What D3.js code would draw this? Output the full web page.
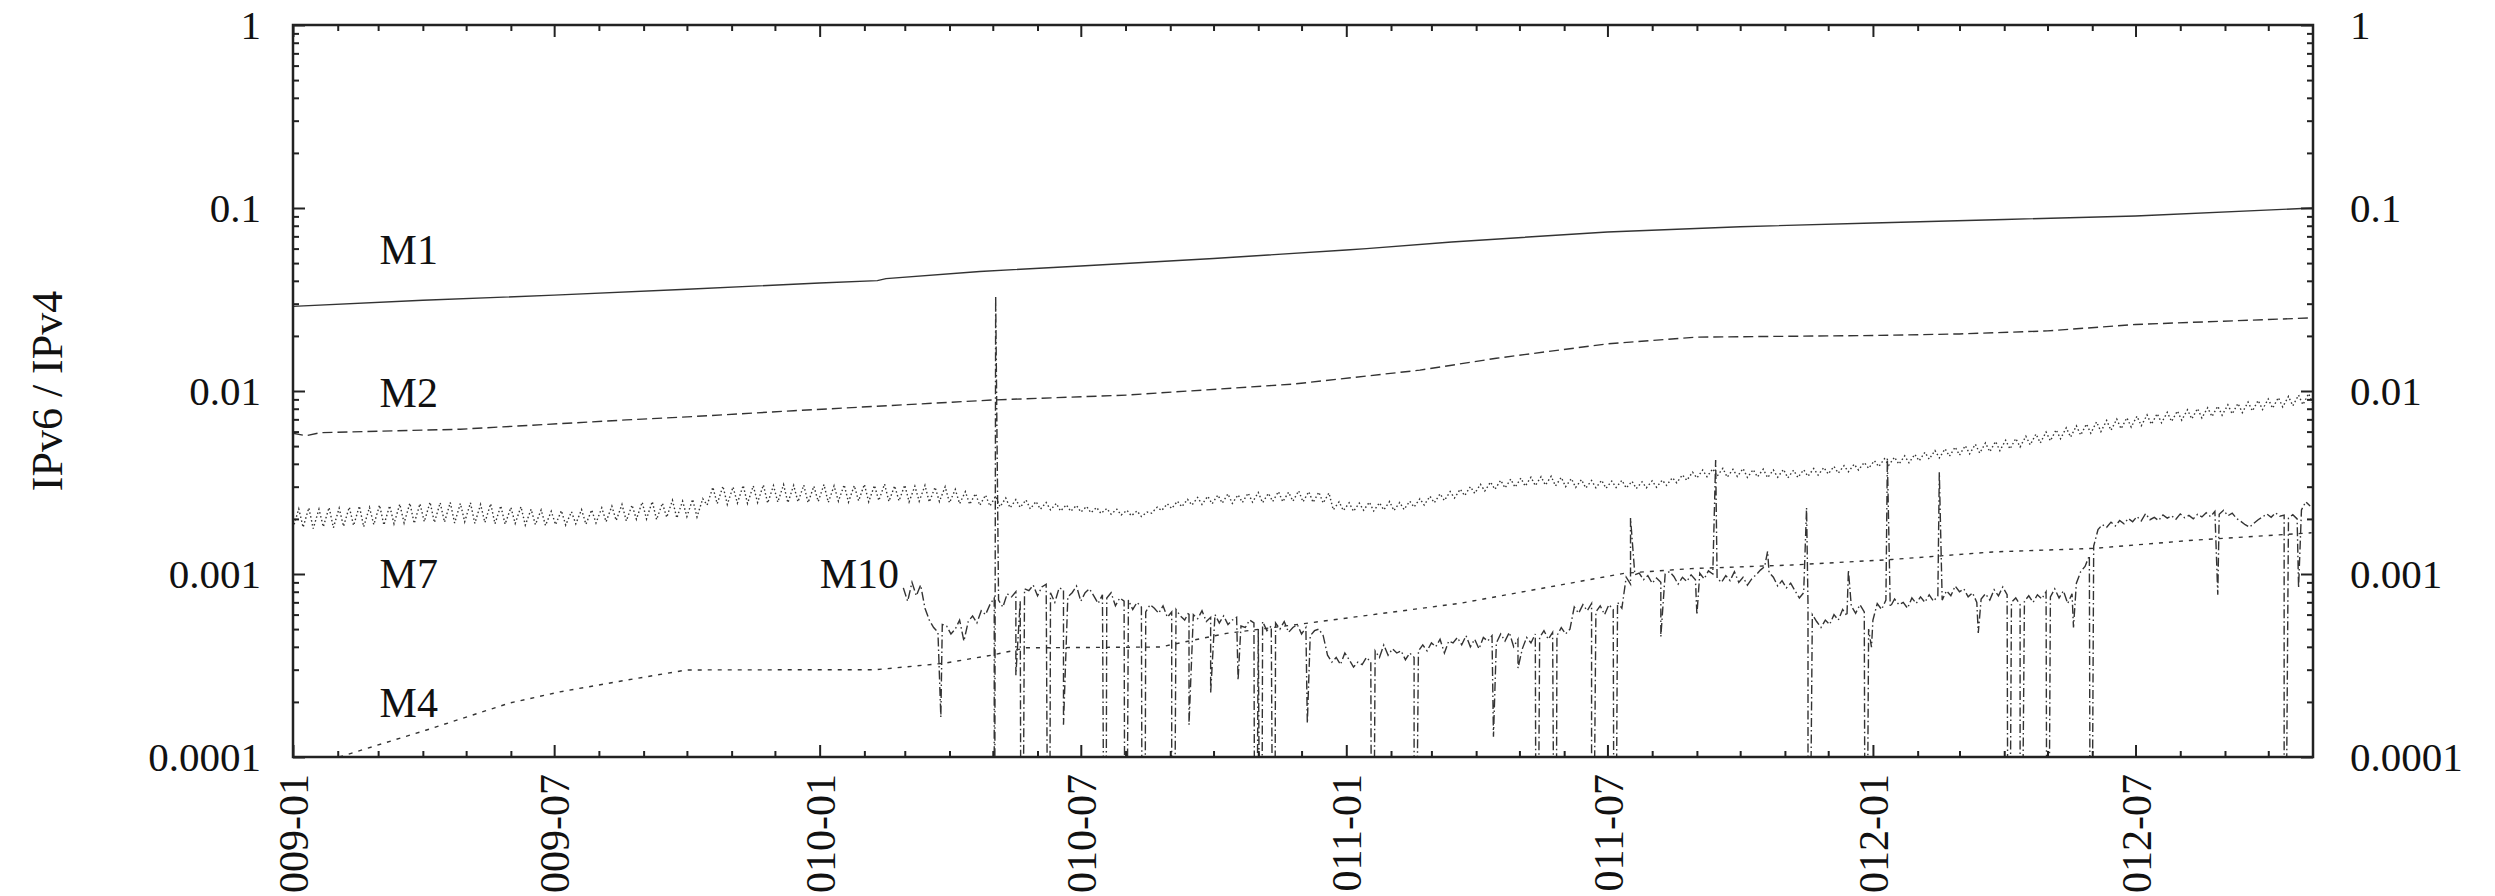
<!DOCTYPE html>
<html>
<head>
<meta charset="utf-8">
<script src="https://cdn.jsdelivr.net/npm/d3@7"></script>
<style>
  body { margin: 0; background: #fff; }
  svg { display: block; }
</style>
</head>
<body>
<div id="chart"></div>
<script>
// ---- data ----
const m1Dates = ["2009-01-01","2009-04-01","2009-07-01","2009-10-01","2010-01-01","2010-02-10","2010-02-16","2010-04-22","2010-07-01","2010-10-01","2011-01-01","2011-01-15","2011-03-15","2011-07-01","2011-10-01","2012-01-01","2012-04-01","2012-07-01","2012-11-01"];
const m1Values = [0.0290,0.0313,0.0334,0.0360,0.0389,0.0401,0.0411,0.0450,0.0482,0.0530,0.0589,0.0600,0.0652,0.0740,0.0790,0.0828,0.0866,0.0904,0.1000];

const m2Dates = ["2009-01-01","2009-01-10","2009-01-20","2009-04-27","2009-08-20","2009-10-05","2009-12-14","2010-05-01","2010-08-02","2010-11-25","2011-02-21","2011-04-15","2011-07-01","2011-09-01","2012-01-01","2012-03-01","2012-05-01","2012-07-01","2012-11-01"];
const m2Values = [0.00588,0.00570,0.00592,0.00618,0.00695,0.00725,0.00780,0.00893,0.00950,0.0109,0.0130,0.0151,0.0181,0.0197,0.0201,0.0205,0.0213,0.0231,0.0251];

const m4Dates = ["2009-02-02","2009-04-03","2009-05-31","2009-07-05","2009-08-20","2009-10-01","2010-02-09","2010-03-28","2010-05-01","2010-05-24","2010-08-25","2010-10-10","2010-11-25","2011-03-21","2011-07-13","2011-08-28","2011-11-06","2012-01-14","2012-03-24","2012-06-02","2012-08-10","2012-10-31"];
const m4Values = [1.00e-4,1.40e-4,1.97e-4,2.27e-4,2.63e-4,2.99e-4,3.00e-4,3.25e-4,3.61e-4,3.95e-4,3.99e-4,4.74e-4,5.26e-4,6.92e-4,1.01e-3,1.07e-3,1.12e-3,1.20e-3,1.32e-3,1.38e-3,1.53e-3,1.68e-3];

// M7: weekly troughs and weekly peaks from 2009-01-01
const m7Start = "2009-01-01";
const m7Low = [
  1.78e-3,1.80e-3,1.77e-3,1.81e-3,1.79e-3, 1.82e-3,1.84e-3,1.81e-3,1.86e-3,1.85e-3,
  1.88e-3,1.90e-3,1.89e-3,1.93e-3,1.91e-3, 1.92e-3,1.90e-3,1.93e-3,1.89e-3,1.91e-3,
  1.88e-3,1.87e-3,1.89e-3,1.85e-3,1.86e-3, 1.84e-3,1.86e-3,1.85e-3,1.88e-3,1.87e-3,
  1.90e-3,1.93e-3,1.96e-3,1.95e-3,1.99e-3, 2.00e-3,1.98e-3,2.04e-3,2.02e-3,2.06e-3,
  2.05e-3,2.38e-3,2.42e-3,2.40e-3,2.44e-3, 2.43e-3,2.46e-3,2.44e-3,2.47e-3,2.45e-3,
  2.48e-3,2.45e-3,2.49e-3,2.46e-3,2.50e-3, 2.47e-3,2.51e-3,2.48e-3,2.52e-3,2.49e-3,
  2.51e-3,2.48e-3,2.50e-3,2.47e-3,2.49e-3, 2.45e-3,2.42e-3,2.40e-3,2.37e-3,2.35e-3,
  2.33e-3,2.30e-3,2.31e-3,2.27e-3,2.26e-3, 2.24e-3,2.21e-3,2.20e-3,2.18e-3,2.16e-3,
  2.14e-3,2.12e-3,2.10e-3,2.08e-3,2.06e-3, 2.15e-3,2.22e-3,2.28e-3,2.33e-3,2.38e-3,
  2.40e-3,2.42e-3,2.44e-3,2.43e-3,2.46e-3, 2.47e-3,2.45e-3,2.49e-3,2.48e-3,2.50e-3,
  2.48e-3,2.46e-3,2.44e-3,2.24e-3,2.22e-3, 2.20e-3,2.23e-3,2.21e-3,2.24e-3,2.22e-3,
  2.25e-3,2.32e-3,2.38e-3,2.45e-3,2.52e-3, 2.60e-3,2.68e-3,2.76e-3,2.84e-3,2.90e-3,
  2.95e-3,2.98e-3,3.02e-3,3.04e-3,3.06e-3, 3.03e-3,3.00e-3,2.97e-3,2.95e-3,2.96e-3,
  2.94e-3,2.97e-3,2.95e-3,2.93e-3,2.96e-3, 2.98e-3,3.05e-3,3.15e-3,3.25e-3,3.35e-3,
  3.40e-3,3.42e-3,3.38e-3,3.41e-3,3.37e-3, 3.39e-3,3.36e-3,3.38e-3,3.35e-3,3.37e-3,
  3.42e-3,3.47e-3,3.52e-3,3.56e-3,3.62e-3, 3.70e-3,3.78e-3,3.86e-3,3.93e-3,3.98e-3,
  4.05e-3,4.15e-3,4.24e-3,4.31e-3,4.40e-3, 4.46e-3,4.53e-3,4.58e-3,4.66e-3,4.72e-3,
  4.82e-3,4.95e-3,5.08e-3,5.20e-3,5.34e-3, 5.48e-3,5.60e-3,5.74e-3,5.88e-3,6.00e-3,
  6.10e-3,6.22e-3,6.35e-3,6.46e-3,6.58e-3, 6.70e-3,6.82e-3,6.93e-3,7.04e-3,7.12e-3,
  7.25e-3,7.38e-3,7.50e-3,7.62e-3,7.78e-3, 7.92e-3,8.05e-3,8.18e-3,8.30e-3,8.42e-3,
  8.50e-3
];
const m7High = [
  2.27e-3,2.30e-3,2.26e-3,2.31e-3,2.29e-3, 2.32e-3,2.35e-3,2.31e-3,2.38e-3,2.36e-3,
  2.41e-3,2.44e-3,2.42e-3,2.47e-3,2.45e-3, 2.46e-3,2.43e-3,2.45e-3,2.40e-3,2.42e-3,
  2.36e-3,2.31e-3,2.33e-3,2.26e-3,2.24e-3, 2.20e-3,2.22e-3,2.19e-3,2.25e-3,2.24e-3,
  2.30e-3,2.35e-3,2.40e-3,2.38e-3,2.47e-3, 2.49e-3,2.44e-3,2.53e-3,2.50e-3,2.56e-3,
  2.58e-3,2.98e-3,3.02e-3,2.99e-3,3.05e-3, 3.03e-3,3.07e-3,3.04e-3,3.08e-3,3.05e-3,
  3.06e-3,3.02e-3,3.08e-3,3.03e-3,3.07e-3, 3.04e-3,3.09e-3,3.05e-3,3.10e-3,3.03e-3,
  3.06e-3,3.02e-3,3.05e-3,2.98e-3,3.00e-3, 2.90e-3,2.82e-3,2.75e-3,2.70e-3,2.66e-3,
  2.60e-3,2.55e-3,2.54e-3,2.49e-3,2.46e-3, 2.43e-3,2.39e-3,2.37e-3,2.34e-3,2.31e-3,
  2.28e-3,2.26e-3,2.23e-3,2.21e-3,2.18e-3, 2.32e-3,2.42e-3,2.50e-3,2.56e-3,2.62e-3,
  2.66e-3,2.70e-3,2.74e-3,2.71e-3,2.77e-3, 2.79e-3,2.76e-3,2.82e-3,2.80e-3,2.85e-3,
  2.82e-3,2.80e-3,2.77e-3,2.48e-3,2.45e-3, 2.44e-3,2.47e-3,2.45e-3,2.49e-3,2.46e-3,
  2.50e-3,2.58e-3,2.66e-3,2.74e-3,2.82e-3, 2.91e-3,3.00e-3,3.09e-3,3.18e-3,3.25e-3,
  3.30e-3,3.34e-3,3.38e-3,3.40e-3,3.42e-3, 3.37e-3,3.32e-3,3.28e-3,3.24e-3,3.25e-3,
  3.22e-3,3.25e-3,3.21e-3,3.19e-3,3.23e-3, 3.26e-3,3.36e-3,3.48e-3,3.60e-3,3.70e-3,
  3.76e-3,3.78e-3,3.73e-3,3.77e-3,3.72e-3, 3.74e-3,3.70e-3,3.73e-3,3.69e-3,3.71e-3,
  3.77e-3,3.82e-3,3.87e-3,3.91e-3,3.98e-3, 4.07e-3,4.16e-3,4.26e-3,4.35e-3,4.42e-3,
  4.51e-3,4.62e-3,4.73e-3,4.83e-3,4.94e-3, 5.03e-3,5.12e-3,5.20e-3,5.30e-3,5.38e-3,
  5.50e-3,5.66e-3,5.82e-3,5.97e-3,6.14e-3, 6.30e-3,6.45e-3,6.60e-3,6.78e-3,6.90e-3,
  7.02e-3,7.14e-3,7.28e-3,7.40e-3,7.52e-3, 7.65e-3,7.78e-3,7.90e-3,8.02e-3,8.10e-3,
  8.26e-3,8.40e-3,8.55e-3,8.70e-3,8.88e-3, 9.05e-3,9.20e-3,9.35e-3,9.50e-3,9.68e-3
];

// M10: one reading every 3 days from 2010-02-28, plus single-day outliers
const m10Start = "2010-02-28";
const m10Base = [
  8.4e-4,7.1e-4,9.0e-4,7.6e-4,8.7e-4,6.5e-4,
  5.6e-4,5.1e-4,4.8e-4,5.3e-4,5.2e-4,4.7e-4,5.0e-4,5.6e-4,4.3e-4,5.5e-4,5.9e-4,5.4e-4,
  6.3e-4,6.0e-4,6.8e-4,7.4e-4,
  7.2e-4,6.6e-4,7.8e-4,7.5e-4,8.0e-4,7.1e-4,8.3e-4,8.1e-4,8.7e-4,7.6e-4,
  8.5e-4,8.8e-4,7.9e-4,7.0e-4,8.4e-4,8.2e-4,7.5e-4,7.9e-4,8.6e-4,7.1e-4,
  7.9e-4,8.3e-4,7.6e-4,6.9e-4,7.7e-4,7.4e-4,7.9e-4,6.7e-4,7.4e-4,7.1e-4,7.2e-4,
  6.4e-4,7.0e-4,6.6e-4,6.2e-4,6.8e-4,6.5e-4,6.1e-4,6.7e-4,5.8e-4,6.2e-4,
  6.4e-4,5.9e-4,5.6e-4,6.2e-4,6.0e-4,5.7e-4,6.3e-4,5.5e-4,5.8e-4,6.0e-4,
  5.4e-4,5.9e-4,5.3e-4,5.6e-4,5.8e-4,5.2e-4,5.1e-4,5.6e-4,5.4e-4,5.0e-4,
  5.5e-4,4.9e-4,5.2e-4,5.4e-4,5.0e-4,5.5e-4,4.8e-4,5.1e-4,5.3e-4,4.7e-4,
  5.1e-4,4.6e-4,4.9e-4,5.0e-4,4.6e-4,
  3.6e-4,3.3e-4,3.5e-4,3.2e-4,3.7e-4,3.4e-4,3.1e-4,3.3e-4,3.2e-4,3.5e-4,3.3e-4,
  3.8e-4,3.5e-4,4.1e-4,3.6e-4,3.9e-4,3.7e-4,3.8e-4,3.4e-4,3.7e-4,3.5e-4,3.8e-4,
  4.1e-4,3.8e-4,4.2e-4,4.0e-4,4.4e-4,3.7e-4,4.3e-4,4.2e-4,4.5e-4,4.1e-4,4.6e-4,4.0e-4,4.4e-4,3.9e-4,4.5e-4,4.3e-4,4.6e-4,
  4.2e-4,4.7e-4,4.3e-4,4.8e-4,4.0e-4,4.4e-4,3.9e-4,4.5e-4,4.2e-4,4.7e-4,4.5e-4,4.9e-4,4.4e-4,4.8e-4,4.6e-4,5.1e-4,4.7e-4,5.0e-4,
  6.6e-4,6.1e-4,6.8e-4,6.3e-4,6.9e-4,6.2e-4,6.7e-4,6.0e-4,6.8e-4,6.4e-4,7.0e-4,6.5e-4,
  9.6e-4,8.8e-4,9.9e-4,10.1e-4,9.3e-4,9.8e-4,8.9e-4,9.5e-4,9.0e-4,10.0e-4,
  10.3e-4,9.7e-4,8.8e-4,9.6e-4,9.1e-4,9.9e-4,9.3e-4,10.1e-4,9.4e-4,10.4e-4,
  10.0e-4,9.5e-4,9.0e-4,9.8e-4,9.2e-4,10.3e-4,9.0e-4,9.6e-4,8.7e-4,9.4e-4,
  9.9e-4,10.5e-4,11.0e-4,10.2e-4,9.6e-4,8.6e-4,9.2e-4,8.4e-4,8.9e-4,
  8.1e-4,7.4e-4,7.9e-4,
  6.8e-4,6.0e-4,5.5e-4,5.1e-4,5.6e-4,5.3e-4,
  6.0e-4,5.6e-4,6.4e-4,5.9e-4,6.7e-4,6.1e-4,6.8e-4,6.2e-4,5.0e-4,5.6e-4,
  6.9e-4,6.4e-4,7.2e-4,6.6e-4,7.3e-4,6.8e-4,7.0e-4,6.5e-4,7.4e-4,6.9e-4,
  7.5e-4,7.0e-4,7.7e-4,7.1e-4,7.6e-4,7.2e-4,8.1e-4,7.6e-4,8.6e-4,8.0e-4,
  8.3e-4,7.5e-4,7.9e-4,7.0e-4,7.3e-4,7.8e-4,7.2e-4,8.2e-4,7.6e-4,8.5e-4,7.7e-4,7.0e-4,7.4e-4,
  6.8e-4,7.1e-4,7.6e-4,7.0e-4,7.7e-4,7.3e-4,8.0e-4,7.5e-4,8.3e-4,7.4e-4,8.1e-4,6.9e-4,7.8e-4,
  8.9e-4,10.3e-4,11.0e-4,12.6e-4,14.2e-4,
  17.5e-4,18.6e-4,18.0e-4,19.2e-4,18.3e-4,19.6e-4,18.8e-4,20.1e-4,19.3e-4,20.6e-4,
  19.5e-4,21.4e-4,19.8e-4,20.4e-4,19.6e-4,21.0e-4,20.2e-4,20.8e-4,19.9e-4,21.3e-4,
  20.3e-4,20.9e-4,20.0e-4,21.2e-4,20.5e-4,21.6e-4,20.6e-4,22.0e-4,21.2e-4,22.3e-4,
  20.8e-4,21.5e-4,20.1e-4,19.4e-4,18.6e-4,18.0e-4,18.9e-4,19.8e-4,20.5e-4,21.3e-4,
  20.4e-4,21.6e-4,20.7e-4,21.0e-4,20.2e-4,21.1e-4,20.0e-4,22.4e-4,24.8e-4,23.5e-4
];
const m10ZeroDates = ["2010-05-02","2010-05-21","2010-06-09","2010-07-18","2010-08-01","2010-08-13","2010-08-14","2010-09-02","2010-09-03","2010-10-30","2010-11-03","2010-11-12","2011-01-19","2011-02-17","2011-05-13","2011-05-26","2011-06-20","2011-07-06","2011-11-17","2011-12-27","2012-04-04","2012-04-12","2012-05-01","2012-05-31","2012-10-12"];
const m10DipDates = ["2010-03-26","2010-05-17","2010-06-19","2010-09-14","2010-09-29","2010-10-18","2010-12-05","2011-04-13","2011-04-30","2011-08-07","2011-09-01","2011-12-31","2012-03-14","2012-05-19","2012-08-27","2012-10-22"];
const m10DipValues = [1.65e-4,2.8e-4,1.5e-4,1.5e-4,2.24e-4,2.63e-4,1.53e-4,1.29e-4,3.06e-4,4.54e-4,5.97e-4,3.98e-4,4.76e-4,5.11e-4,7.7e-4,8.4e-4];
const m10SpikeDates = ["2010-05-03","2011-07-17","2011-09-14","2011-10-20","2011-11-16","2011-12-15","2012-01-11","2012-02-16"];
const m10SpikeValues = [3.3e-2,2.02e-3,4.2e-3,1.33e-3,2.3e-3,1.05e-3,4.3e-3,3.6e-3];

const yTickValues = [1e-4, 1e-3, 1e-2, 1e-1, 1];
const yTickLabels = ["0.0001", "0.001", "0.01", "0.1", "1"];
// the figure is cropped, so the century digit of each date label is cut off
const xTickDates = ["2009-01","2009-07","2010-01","2010-07","2011-01","2011-07","2012-01","2012-07"];
const xTickLabels = ["009-01","009-07","010-01","010-07","011-01","011-07","012-01","012-07"];

// ---- layout ----
const W = 2495, H = 896;
const margin = { top: 25, right: 182, bottom: 139, left: 293 },
  width = W - margin.left - margin.right,
  height = H - margin.top - margin.bottom;

const parse = d3.timeParse("%Y-%m-%d");
const parseMonth = d3.timeParse("%Y-%m");

const x = d3.scaleTime()
  .domain([parse("2009-01-01"), parse("2012-11-01")])
  .range([0, width]);
const y = d3.scaleLog()
  .domain([1e-4, 1])
  .range([height, 0]);

const svg = d3.select("#chart").append("svg")
  .attr("width", W)
  .attr("height", H)
  .style("background", "#fff");

const g = svg.append("g")
  .attr("transform", "translate(" + margin.left + "," + margin.top + ")");

g.append("clipPath").attr("id", "plot-clip")
  .append("rect").attr("width", width).attr("height", height);

// build series
const pairs = (dates, vals) => dates.map((d, i) => ({ date: parse(d), v: vals[i] }));

const m7 = [];
const s7 = parse(m7Start);
m7Low.forEach((v, i) => {
  m7.push({ date: d3.timeDay.offset(s7, 7 * i), v: v });
  if (i < m7High.length) m7.push({ date: d3.timeDay.offset(s7, 7 * i + 4), v: m7High[i] });
});

const s10 = parse(m10Start);
let m10 = m10Base.map((v, i) => ({ date: d3.timeDay.offset(s10, 3 * i), v: v }));
m10 = m10
  .concat(m10ZeroDates.map(d => ({ date: parse(d), v: 0 })))
  .concat(pairs(m10DipDates, m10DipValues))
  .concat(pairs(m10SpikeDates, m10SpikeValues));
m10.sort((a, b) => a.date - b.date);

const series = [
  { name: "M1", data: pairs(m1Dates, m1Values), dash: null },
  { name: "M2", data: pairs(m2Dates, m2Values), dash: "10,5" },
  { name: "M7", data: m7, dash: "1.5,2.5" },
  { name: "M4", data: pairs(m4Dates, m4Values), dash: "4,6" },
  { name: "M10", data: m10, dash: "9,3,1.5,3" }
];

const line = d3.line()
  .x(d => x(d.date))
  .y(d => y(Math.max(d.v, 1e-6)));

g.append("g")
  .attr("clip-path", "url(#plot-clip)")
  .selectAll("path")
  .data(series)
  .join("path")
    .attr("d", d => line(d.data))
    .attr("fill", "none")
    .attr("stroke", "#333")
    .attr("stroke-width", 1.4)
    .attr("stroke-dasharray", d => d.dash);

// series labels
const labelFont = "'Liberation Serif', 'Times New Roman', serif";
const seriesLabels = [
  { text: "M1", date: "2009-03-02", v: 0.0494 },
  { text: "M2", date: "2009-03-02", v: 0.00818 },
  { text: "M7", date: "2009-03-02", v: 0.000838 },
  { text: "M4", date: "2009-03-02", v: 0.000165 },
  { text: "M10", date: "2010-01-01", v: 0.000838 }
];
g.selectAll(".slabel")
  .data(seriesLabels)
  .join("text")
    .attr("class", "slabel")
    .attr("x", d => x(parse(d.date)))
    .attr("y", d => y(d.v))
    .style("font-family", labelFont)
    .style("font-size", "42px")
    .attr("fill", "#111")
    .text(d => d.text);

// ---- axes ----
const yMinor = y.ticks().filter(t => yTickValues.indexOf(t) < 0 && t > 1e-4 && t < 1);
const xMajor = xTickDates.map(parseMonth);
const xMinor = d3.timeMonth.range(x.domain()[0], x.domain()[1])
  .filter(d => d.getMonth() !== 0 && d.getMonth() !== 6);

function styleAxis(sel) {
  sel.select(".domain").remove();
  sel.selectAll("line").attr("stroke", "#222").attr("stroke-width", 2);
  sel.selectAll("text")
    .style("font-family", labelFont)
    .style("font-size", "41px")
    .attr("fill", "#111");
}

const fmtY = d => yTickLabels[yTickValues.indexOf(d)];
const fmtX = (d, i) => xTickLabels[i];

g.append("g").call(d3.axisLeft(y).tickValues(yTickValues).tickSize(-12).tickPadding(32).tickFormat(fmtY)).call(styleAxis);
g.append("g").call(d3.axisLeft(y).tickValues(yMinor).tickSize(-6).tickFormat("")).call(styleAxis);
g.append("g").attr("transform", "translate(" + width + ",0)")
  .call(d3.axisRight(y).tickValues(yTickValues).tickSize(-12).tickPadding(37).tickFormat(fmtY)).call(styleAxis);
g.append("g").attr("transform", "translate(" + width + ",0)")
  .call(d3.axisRight(y).tickValues(yMinor).tickSize(-6).tickFormat("")).call(styleAxis);

const xAxisG = g.append("g").attr("transform", "translate(0," + height + ")")
  .call(d3.axisBottom(x).tickValues(xMajor).tickSize(-12).tickFormat(fmtX))
  .call(styleAxis);
xAxisG.selectAll("text")
  .attr("y", 0)
  .attr("x", -17)
  .attr("dy", "0.35em")
  .attr("transform", "rotate(-90)")
  .style("font-size", "42px")
  .style("text-anchor", "end");
g.append("g").attr("transform", "translate(0," + height + ")")
  .call(d3.axisBottom(x).tickValues(xMinor).tickSize(-6).tickFormat("")).call(styleAxis);
g.append("g").call(d3.axisTop(x).tickValues(xMajor).tickSize(-12).tickFormat("")).call(styleAxis);
g.append("g").call(d3.axisTop(x).tickValues(xMinor).tickSize(-6).tickFormat("")).call(styleAxis);

// frame
g.append("rect")
  .attr("width", width)
  .attr("height", height)
  .attr("fill", "none")
  .attr("stroke", "#222")
  .attr("stroke-width", 2.5);

// y axis title
svg.append("text")
  .attr("transform", "translate(62," + (margin.top + height / 2) + ") rotate(-90)")
  .attr("text-anchor", "middle")
  .style("font-family", labelFont)
  .style("font-size", "44px")
  .attr("fill", "#111")
  .text("IPv6 / IPv4");
</script>
</body>
</html>
